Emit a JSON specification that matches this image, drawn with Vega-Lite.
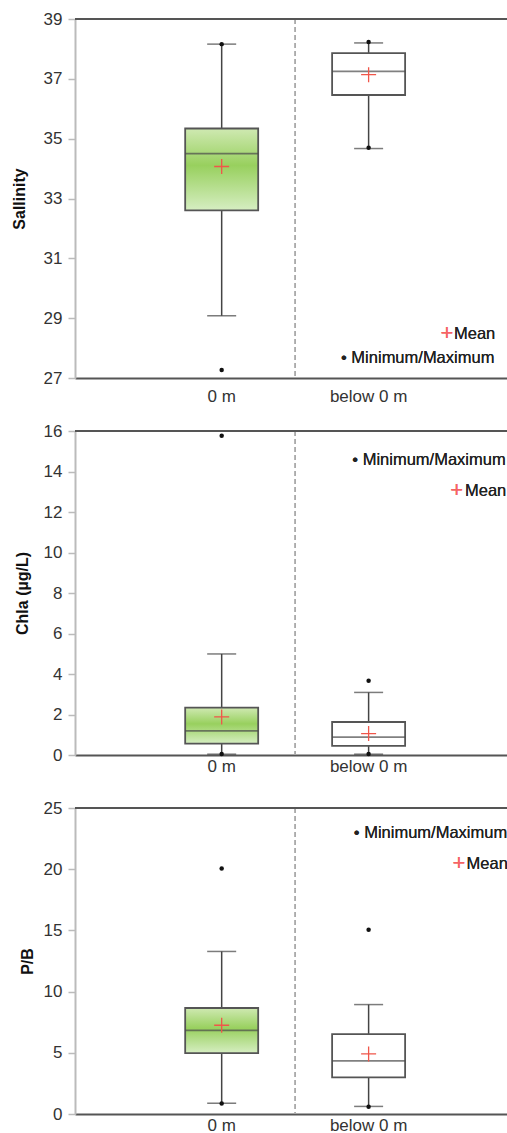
{
  "$schema": "https://vega.github.io/schema/vega-lite/v6.json",
  "padding": {"left": 11, "top": 10, "right": 0, "bottom": 0},
  "bounds": "flush",
  "spacing": 53,
  "config": {
    "view": {"stroke": null},
    "font": "Liberation Sans",
    "axis": {"grid": false, "labelFont": "Liberation Sans", "titleFont": "Liberation Sans", "labelFontSize": 17, "labelColor": "#333", "titleFontSize": 16, "titleFontWeight": "bold", "titleColor": "#111"},
    "axisY": {"domainColor": "#bbb", "domainWidth": 2, "tickColor": "#bbb", "tickSize": 7, "tickWidth": 1.5, "labelPadding": 6, "titleBaseline": "middle"},
    "axisX": {"domainColor": "#555", "domainWidth": 2, "ticks": false, "labelAngle": 0},
    "text": {"font": "Liberation Sans"}
  },
  "vconcat": [
    {
      "width": 432, "height": 359,
      "data": {"values": [
        {"depth": "0 m", "min": 27.27, "low": 29.08, "q1": 32.6, "median": 34.5, "q3": 35.34, "high": 38.16, "max": 38.16, "mean": 34.07},
        {"depth": "below 0 m", "min": 34.7, "low": 34.67, "q1": 36.46, "median": 37.25, "q3": 37.86, "high": 38.2, "max": 38.23, "mean": 37.14}
      ]},
      "layer": [
        {"mark": {"type": "rule", "color": "#444", "strokeWidth": 1.5},
         "encoding": {
           "x": {"field": "depth", "type": "nominal", "sort": null, "scale": {"domain": ["0 m", "below 0 m"], "paddingInner": 0, "paddingOuter": 0.47, "align": 0.53}, "axis": {"title": null, "labelPadding": 10}},
           "y": {"field": "low", "type": "quantitative", "scale": {"domain": [27, 39], "nice": false, "zero": false}, "axis": {"title": "Sallinity", "values": [27, 29, 31, 33, 35, 37, 39], "titleX": -56}},
           "y2": {"field": "high"}}},
        {"mark": {"type": "rule", "color": "#aaa", "strokeWidth": 1.5, "strokeDash": [5, 3]},
         "encoding": {"x": {"datum": "below 0 m", "type": "nominal", "bandPosition": 0}}},
        {"mark": {"type": "rule", "color": "#555", "strokeWidth": 2},
         "encoding": {"y": {"datum": 39, "type": "quantitative"}}},
        {"mark": {"type": "tick", "color": "#444", "size": 29, "thickness": 1.5},
         "encoding": {"x": {"field": "depth", "type": "nominal"}, "y": {"field": "low", "type": "quantitative"}}},
        {"mark": {"type": "tick", "color": "#444", "size": 29, "thickness": 1.5},
         "encoding": {"x": {"field": "depth", "type": "nominal"}, "y": {"field": "high", "type": "quantitative"}}},
        {"transform": [{"filter": "datum.depth == '0 m'"}],
         "mark": {"type": "bar", "size": 73, "stroke": "#555", "strokeWidth": 1.8, "fill": {"gradient": "linear", "x1": 0, "y1": 0, "x2": 0, "y2": 1, "stops": [{"offset": 0, "color": "#cfe9b2"}, {"offset": 0.45, "color": "#98d05e"}, {"offset": 1, "color": "#d6eec2"}]}},
         "encoding": {"x": {"field": "depth", "type": "nominal"}, "y": {"field": "q1", "type": "quantitative"}, "y2": {"field": "q3"}}},
        {"transform": [{"filter": "datum.depth != '0 m'"}],
         "mark": {"type": "bar", "size": 73, "stroke": "#555", "strokeWidth": 1.8, "fill": "#ffffff"},
         "encoding": {"x": {"field": "depth", "type": "nominal"}, "y": {"field": "q1", "type": "quantitative"}, "y2": {"field": "q3"}}},
        {"mark": {"type": "tick", "color": "#4a4a4a", "size": 73, "thickness": 1.8},
         "encoding": {"x": {"field": "depth", "type": "nominal"}, "y": {"field": "median", "type": "quantitative"}}},
        {"mark": {"type": "point", "shape": "M-1,0L1,0M0,-1L0,1", "size": 225, "filled": false, "color": "#f0564a", "strokeWidth": 1.3, "opacity": 1},
         "encoding": {"x": {"field": "depth", "type": "nominal"}, "y": {"field": "mean", "type": "quantitative"}}},
        {"mark": {"type": "point", "shape": "circle", "size": 20, "filled": true, "color": "#111", "opacity": 1},
         "encoding": {"x": {"field": "depth", "type": "nominal"}, "y": {"field": "min", "type": "quantitative"}}},
        {"mark": {"type": "point", "shape": "circle", "size": 20, "filled": true, "color": "#111", "opacity": 1},
         "encoding": {"x": {"field": "depth", "type": "nominal"}, "y": {"field": "max", "type": "quantitative"}}},
        {"mark": {"type": "text", "text": "+", "color": "#f56464", "fontSize": 22, "fontWeight": 300, "align": "center", "baseline": "middle", "dx": 78.4, "dy": -1},
         "encoding": {"x": {"datum": "below 0 m", "type": "nominal"}, "y": {"datum": 28.48, "type": "quantitative"}}},
        {"mark": {"type": "text", "text": "Mean", "color": "#222", "fontSize": 16.5, "align": "left", "baseline": "middle", "dx": 85.4},
         "encoding": {"x": {"datum": "below 0 m", "type": "nominal"}, "y": {"datum": 28.48, "type": "quantitative"}}},
        {"mark": {"type": "text", "text": "• Minimum/Maximum", "color": "#222", "fontSize": 16.5, "align": "left", "baseline": "middle", "dx": -27.6},
         "encoding": {"x": {"datum": "below 0 m", "type": "nominal"}, "y": {"datum": 27.66, "type": "quantitative"}}}
      ]
    },
    {
      "width": 432, "height": 324,
      "data": {"values": [
        {"depth": "0 m", "min": 0.05, "low": 0.04, "q1": 0.56, "median": 1.19, "q3": 2.34, "high": 4.99, "max": 15.77, "mean": 1.88},
        {"depth": "below 0 m", "min": 0.05, "low": 0.04, "q1": 0.45, "median": 0.88, "q3": 1.63, "high": 3.09, "max": 3.67, "mean": 1.06}
      ]},
      "layer": [
        {"mark": {"type": "rule", "color": "#444", "strokeWidth": 1.5},
         "encoding": {
           "x": {"field": "depth", "type": "nominal", "sort": null, "scale": {"domain": ["0 m", "below 0 m"], "paddingInner": 0, "paddingOuter": 0.47, "align": 0.53}, "axis": {"title": null, "labelPadding": 3}},
           "y": {"field": "low", "type": "quantitative", "scale": {"domain": [0, 16], "nice": false}, "axis": {"title": "Chla (µg/L)", "values": [0, 2, 4, 6, 8, 10, 12, 14, 16], "titleX": -53}},
           "y2": {"field": "high"}}},
        {"mark": {"type": "rule", "color": "#aaa", "strokeWidth": 1.5, "strokeDash": [5, 3]},
         "encoding": {"x": {"datum": "below 0 m", "type": "nominal", "bandPosition": 0}}},
        {"mark": {"type": "rule", "color": "#555", "strokeWidth": 2},
         "encoding": {"y": {"datum": 16, "type": "quantitative"}}},
        {"mark": {"type": "tick", "color": "#444", "size": 29, "thickness": 1.5},
         "encoding": {"x": {"field": "depth", "type": "nominal"}, "y": {"field": "low", "type": "quantitative"}}},
        {"mark": {"type": "tick", "color": "#444", "size": 29, "thickness": 1.5},
         "encoding": {"x": {"field": "depth", "type": "nominal"}, "y": {"field": "high", "type": "quantitative"}}},
        {"transform": [{"filter": "datum.depth == '0 m'"}],
         "mark": {"type": "bar", "size": 73, "stroke": "#555", "strokeWidth": 1.8, "fill": {"gradient": "linear", "x1": 0, "y1": 0, "x2": 0, "y2": 1, "stops": [{"offset": 0, "color": "#cfe9b2"}, {"offset": 0.45, "color": "#98d05e"}, {"offset": 1, "color": "#d6eec2"}]}},
         "encoding": {"x": {"field": "depth", "type": "nominal"}, "y": {"field": "q1", "type": "quantitative"}, "y2": {"field": "q3"}}},
        {"transform": [{"filter": "datum.depth != '0 m'"}],
         "mark": {"type": "bar", "size": 73, "stroke": "#555", "strokeWidth": 1.8, "fill": "#ffffff"},
         "encoding": {"x": {"field": "depth", "type": "nominal"}, "y": {"field": "q1", "type": "quantitative"}, "y2": {"field": "q3"}}},
        {"mark": {"type": "tick", "color": "#4a4a4a", "size": 73, "thickness": 1.8},
         "encoding": {"x": {"field": "depth", "type": "nominal"}, "y": {"field": "median", "type": "quantitative"}}},
        {"mark": {"type": "point", "shape": "M-1,0L1,0M0,-1L0,1", "size": 225, "filled": false, "color": "#f0564a", "strokeWidth": 1.3, "opacity": 1},
         "encoding": {"x": {"field": "depth", "type": "nominal"}, "y": {"field": "mean", "type": "quantitative"}}},
        {"mark": {"type": "point", "shape": "circle", "size": 20, "filled": true, "color": "#111", "opacity": 1},
         "encoding": {"x": {"field": "depth", "type": "nominal"}, "y": {"field": "min", "type": "quantitative"}}},
        {"mark": {"type": "point", "shape": "circle", "size": 20, "filled": true, "color": "#111", "opacity": 1},
         "encoding": {"x": {"field": "depth", "type": "nominal"}, "y": {"field": "max", "type": "quantitative"}}},
        {"mark": {"type": "text", "text": "• Minimum/Maximum", "color": "#222", "fontSize": 16.5, "align": "left", "baseline": "middle", "dx": -16.3},
         "encoding": {"x": {"datum": "below 0 m", "type": "nominal"}, "y": {"datum": 14.56, "type": "quantitative"}}},
        {"mark": {"type": "text", "text": "+", "color": "#f56464", "fontSize": 22, "fontWeight": 300, "align": "center", "baseline": "middle", "dx": 88, "dy": -1},
         "encoding": {"x": {"datum": "below 0 m", "type": "nominal"}, "y": {"datum": 13.04, "type": "quantitative"}}},
        {"mark": {"type": "text", "text": "Mean", "color": "#222", "fontSize": 16.5, "align": "left", "baseline": "middle", "dx": 96.4},
         "encoding": {"x": {"datum": "below 0 m", "type": "nominal"}, "y": {"datum": 13.04, "type": "quantitative"}}}
      ]
    },
    {
      "width": 432, "height": 306,
      "data": {"values": [
        {"depth": "0 m", "min": 0.85, "low": 0.88, "q1": 4.97, "median": 6.84, "q3": 8.66, "high": 13.28, "max": 20.05, "mean": 7.25},
        {"depth": "below 0 m", "min": 0.6, "low": 0.62, "q1": 2.99, "median": 4.34, "q3": 6.52, "high": 8.94, "max": 15.05, "mean": 4.91}
      ]},
      "layer": [
        {"mark": {"type": "rule", "color": "#444", "strokeWidth": 1.5},
         "encoding": {
           "x": {"field": "depth", "type": "nominal", "sort": null, "scale": {"domain": ["0 m", "below 0 m"], "paddingInner": 0, "paddingOuter": 0.47, "align": 0.53}, "axis": {"title": null, "labelPadding": 3}},
           "y": {"field": "low", "type": "quantitative", "scale": {"domain": [0, 25], "nice": false}, "axis": {"title": "P/B", "values": [0, 5, 10, 15, 20, 25], "titleX": -48}},
           "y2": {"field": "high"}}},
        {"mark": {"type": "rule", "color": "#aaa", "strokeWidth": 1.5, "strokeDash": [5, 3]},
         "encoding": {"x": {"datum": "below 0 m", "type": "nominal", "bandPosition": 0}}},
        {"mark": {"type": "rule", "color": "#555", "strokeWidth": 2},
         "encoding": {"y": {"datum": 25, "type": "quantitative"}}},
        {"mark": {"type": "tick", "color": "#444", "size": 29, "thickness": 1.5},
         "encoding": {"x": {"field": "depth", "type": "nominal"}, "y": {"field": "low", "type": "quantitative"}}},
        {"mark": {"type": "tick", "color": "#444", "size": 29, "thickness": 1.5},
         "encoding": {"x": {"field": "depth", "type": "nominal"}, "y": {"field": "high", "type": "quantitative"}}},
        {"transform": [{"filter": "datum.depth == '0 m'"}],
         "mark": {"type": "bar", "size": 73, "stroke": "#555", "strokeWidth": 1.8, "fill": {"gradient": "linear", "x1": 0, "y1": 0, "x2": 0, "y2": 1, "stops": [{"offset": 0, "color": "#cfe9b2"}, {"offset": 0.45, "color": "#98d05e"}, {"offset": 1, "color": "#d6eec2"}]}},
         "encoding": {"x": {"field": "depth", "type": "nominal"}, "y": {"field": "q1", "type": "quantitative"}, "y2": {"field": "q3"}}},
        {"transform": [{"filter": "datum.depth != '0 m'"}],
         "mark": {"type": "bar", "size": 73, "stroke": "#555", "strokeWidth": 1.8, "fill": "#ffffff"},
         "encoding": {"x": {"field": "depth", "type": "nominal"}, "y": {"field": "q1", "type": "quantitative"}, "y2": {"field": "q3"}}},
        {"mark": {"type": "tick", "color": "#4a4a4a", "size": 73, "thickness": 1.8},
         "encoding": {"x": {"field": "depth", "type": "nominal"}, "y": {"field": "median", "type": "quantitative"}}},
        {"mark": {"type": "point", "shape": "M-1,0L1,0M0,-1L0,1", "size": 225, "filled": false, "color": "#f0564a", "strokeWidth": 1.3, "opacity": 1},
         "encoding": {"x": {"field": "depth", "type": "nominal"}, "y": {"field": "mean", "type": "quantitative"}}},
        {"mark": {"type": "point", "shape": "circle", "size": 20, "filled": true, "color": "#111", "opacity": 1},
         "encoding": {"x": {"field": "depth", "type": "nominal"}, "y": {"field": "min", "type": "quantitative"}}},
        {"mark": {"type": "point", "shape": "circle", "size": 20, "filled": true, "color": "#111", "opacity": 1},
         "encoding": {"x": {"field": "depth", "type": "nominal"}, "y": {"field": "max", "type": "quantitative"}}},
        {"mark": {"type": "text", "text": "• Minimum/Maximum", "color": "#222", "fontSize": 16.5, "align": "left", "baseline": "middle", "dx": -14.8},
         "encoding": {"x": {"datum": "below 0 m", "type": "nominal"}, "y": {"datum": 22.95, "type": "quantitative"}}},
        {"mark": {"type": "text", "text": "+", "color": "#f56464", "fontSize": 22, "fontWeight": 300, "align": "center", "baseline": "middle", "dx": 90.4, "dy": -1},
         "encoding": {"x": {"datum": "below 0 m", "type": "nominal"}, "y": {"datum": 20.46, "type": "quantitative"}}},
        {"mark": {"type": "text", "text": "Mean", "color": "#222", "fontSize": 16.5, "align": "left", "baseline": "middle", "dx": 98},
         "encoding": {"x": {"datum": "below 0 m", "type": "nominal"}, "y": {"datum": 20.46, "type": "quantitative"}}}
      ]
    }
  ]
}
